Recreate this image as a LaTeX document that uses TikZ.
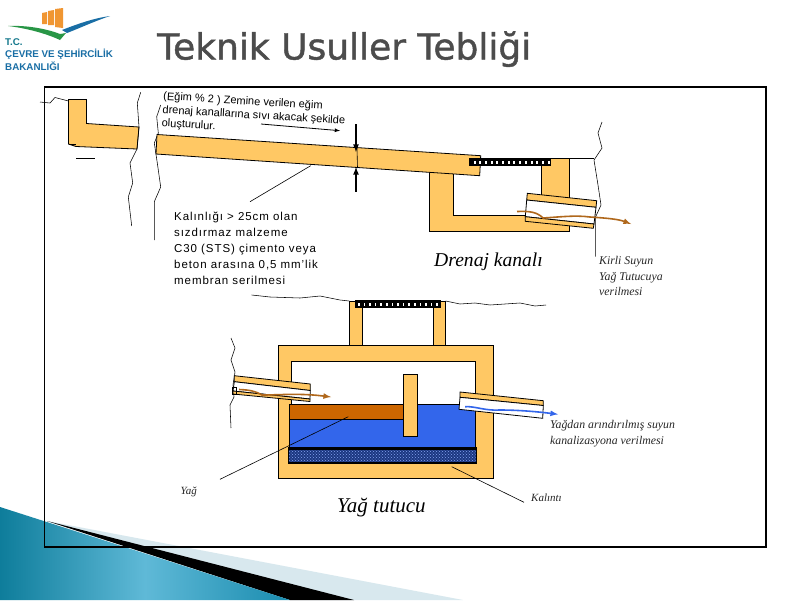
\documentclass[tikz,border=0pt]{standalone}
\usepackage{fontspec}
\setmainfont{Liberation Sans}
\newfontfamily\titlefont[FakeBold=1.2]{DejaVu Sans}
\newfontfamily\notefont{Liberation Serif}
\newfontfamily\remarkfont[LetterSpace=8]{Liberation Sans}
\usetikzlibrary{patterns}
\definecolor{wallcol}{RGB}{255,200,100}
\definecolor{oilcol}{RGB}{204,102,0}
\definecolor{watercol}{RGB}{51,102,235}
\definecolor{pipeflow}{RGB}{176,104,28}
\definecolor{logoblue}{RGB}{25,110,165}
\definecolor{logoteal}{RGB}{20,120,140}
\definecolor{tealdark}{RGB}{14,125,155}
\definecolor{tealmid}{RGB}{95,185,215}
\definecolor{tealend}{RGB}{26,140,175}
\definecolor{wedgecol}{RGB}{216,232,238}
\definecolor{logoorange}{RGB}{240,150,50}
\definecolor{logogreen}{RGB}{40,150,70}
\begin{document}
\begin{tikzpicture}[x=1pt,y=-1pt]
	\tikzstyle{wall} = [draw=black, fill=wallcol, line width=0.8pt]
	\tikzstyle{crack} = [draw=black, line width=0.55pt]
	\tikzstyle{leader} = [draw=black, line width=0.6pt]
	\tikzstyle{bore} = [draw=black, fill=white, line width=0.8pt]
	\tikzstyle{note} = [anchor=base west, font=\notefont\itshape\fontsize{11.8}{14}\selectfont, text=black!85, inner sep=0pt]
	\tikzstyle{caption} = [anchor=base west, font=\notefont\itshape\fontsize{19.6}{24}\selectfont, inner sep=0pt]
	\tikzstyle{remark} = [anchor=base west, font=\remarkfont\fontsize{11.5}{13}\selectfont, inner sep=0pt]
	\tikzstyle{slope} = [anchor=north west, align=left, font=\fontsize{11}{13.4}\selectfont, inner sep=0pt, rotate=-3.4]
	\tikzstyle{logotext} = [inner sep=0pt, anchor=west, font=\bfseries\fontsize{9.8}{11}\selectfont]
	\useasboundingbox (0,0) rectangle (800,600);
	\fill[white] (0,0) rectangle (800,600);
	\fill[wedgecol] (47,521) -- (463,600) -- (290,600) -- cycle;
	\fill[black] (47,521) -- (354,600) -- (290,600) -- cycle;
	\shade[left color=tealdark, right color=tealend, middle color=tealmid] (0,507) -- (290,600) -- (0,600) -- cycle;
	\draw[black, line width=1.8pt] (44.5,87) rectangle (766,547);
	\node[inner sep=0pt, anchor=base west, font=\titlefont\fontsize{36}{42}\selectfont, text=black!70] (title) at (157,59.5) {Teknik Usuller Tebliği};
	% logo
	\fill[logoorange] (42,13) -- (47,12) -- (47,24) -- (42,24) -- cycle;
	\fill[logoorange] (48,11) -- (54,10) -- (54,25) -- (48,25) -- cycle;
	\fill[logoorange] (55,9) -- (63,8) -- (63,28) -- (55,27) -- cycle;
	\fill[logogreen] (8,26) .. controls (30,25) and (50,30) .. (60,34) -- (66,33) -- (60,40) .. controls (45,33) and (25,28) .. (8,26) -- cycle;
	\fill[logoblue] (62,30) .. controls (80,23) and (95,18) .. (110,16) .. controls (95,21) and (80,28) .. (67,33) -- cycle;
	\node[logotext, text=logoteal] (logoa) at (5,42) {T.C.};
	\node[logotext, text=logoblue] (logob) at (5,54) {ÇEVRE VE ŞEHİRCİLİK};
	\node[logotext, text=logoblue] (logoc) at (5,66) {BAKANLIĞI};
	% drain channel
	\draw[wall] (68.5,99.5) -- (86.5,99.5) -- (86.5,123.5) -- (139,127) -- (137,149) -- (76,146.5) -- (68.5,144) -- cycle;
	\draw[leader] (68.5,144.5) -- (76,144.5);
	\draw[leader] (76,158.3) -- (95,158.3);
	\draw[crack] (40,102) -- (50,103) -- (55,97.5) -- (68.5,101);
	\draw[crack] (140.7,92.3) -- (137.3,103) -- (139,127) -- (137,149) -- (130,163) -- (132.7,183) -- (128.3,197) -- (131.7,226);
	\draw[crack] (160.7,105) -- (156.7,116.7) -- (158.3,133) -- (154.3,143) -- (157.3,163) -- (160.7,187) -- (154.3,201.7) -- (154.3,240);
	\draw[wall] (429.3,170) -- (429.3,231.7) -- (569.3,231.7) -- (569.3,158.7) -- (541.3,158.7) -- (541.3,215.3) -- (453.3,215.3) -- (453.3,170) -- cycle;
	\draw[wall] (157,134.5) -- (480.7,155.7) -- (479.7,175.7) -- (156,154) -- cycle;
	\fill[black] (469.3,158.3) rectangle (550.7,165.5);
	\foreach \i in {0,...,13} {
		\fill[white] (473.5+5.7*\i,161) rectangle +(2,3.2);
	}
	\draw[crack] (569.3,158.7) -- (594,158.7);
	\draw[crack] (602,122) -- (598,133) -- (602,148) -- (594,160) -- (598,185) -- (601,205) -- (595.7,216.7) -- (595.7,256.7);
	\draw[wall] (527.3,193.3) -- (596.7,200.7) -- (596,207.3) -- (526.7,200) -- cycle;
	\draw[bore] (526.7,200) -- (596,207.3) -- (594,224) -- (525.3,216.7) -- cycle;
	\draw[wall] (525.3,216.7) -- (594,224) -- (593.3,228.3) -- (525.3,221.3) -- cycle;
	\draw[pipeflow, line width=1.6pt, -latex] (517,211.5) .. controls (530,211) and (537,212) .. (543,218) .. controls (560,217) and (575,215) .. (590,217) .. controls (605,218) and (618,219) .. (631,224);
	\draw[leader, line width=0.8pt, -latex] (261,124) -- (340,130.7);
	\draw[black, line width=1.6pt, -latex] (356,124.3) -- (356,152);
	\draw[black, line width=1.6pt, -latex] (356,191.7) -- (356,167);
	\draw[leader] (357,148) -- (357.5,168);
	\coordinate (slabfoot) at (310.7,165.7);
	\node[remark] (thick-a) at (174,220) {Kalınlığı > 25cm olan};
	\node[remark] (thick-b) at (174,236) {sızdırmaz malzeme};
	\node[remark] (thick-c) at (174,252.3) {C30 (STS) çimento veya};
	\node[remark] (thick-d) at (174,268.3) {beton arasına 0,5 mm’lik};
	\node[remark] (thick-e) at (174,284) {membran serilmesi};
	\coordinate (thick-top) at (250,201.7);
	\draw[leader] (thick-top) -- (slabfoot);
	\node[slope] (slope-note) at (163.5,91.5) {(Eğim \% 2 ) Zemine verilen eğim\\drenaj kanallarına sıvı akacak şekilde\\oluşturulur.};
	\node[caption] (drain) at (434,266) {Drenaj kanalı};
	\node[note] (dirty-a) at (599,264) {Kirli Suyun};
	\node[note] (dirty-b) at (599,280) {Yağ Tutucuya};
	\node[note] (dirty-c) at (599,295.7) {verilmesi};
	% oil trap
	\draw[crack] (251.7,295) -- (270,297) -- (285,297.5) -- (300,298) -- (320,296) -- (340,300) -- (349.3,301);
	\draw[crack] (445.7,301) -- (460,304) -- (475,303) -- (490,305) -- (505,304) -- (520,303) -- (535,306) -- (546,305);
	\draw[wall] (349.3,301) rectangle (362.7,345.3);
	\draw[wall] (433.3,301) rectangle (445.7,345.3);
	\fill[black] (355,300.3) rectangle (441,307.7);
	\foreach \i in {0,...,14} {
		\fill[white] (358+5.6*\i,303) rectangle +(1.6,3);
	}
	\draw[wall] (278.3,345.3) rectangle (493.7,478.3);
	\draw[black, fill=white, line width=0.8pt] (291.7,361.3) -- (475.7,361.3) -- (475.7,404.3) -- (291.7,404.3) -- cycle;
	\draw[black, fill=watercol, line width=0.8pt] (289.3,404.3) rectangle (475.7,447.3);
	\draw[black, fill=oilcol, line width=0.8pt] (289.3,404.3) rectangle (403.3,419.3);
	\fill[black] (288.3,447.3) rectangle (476.7,464.3);
	\fill[watercol!55!black] (289.3,450) rectangle (475.7,461.5);
	\fill[pattern=crosshatch dots, pattern color=watercol!60!white] (289.3,450) rectangle (475.7,461.5);
	\draw[wall] (403.3,374.3) rectangle (417.3,436.3);
	\draw[crack] (231,338) -- (235,348) -- (231,360) -- (235,372) -- (233,385) -- (234,397) -- (230,405) -- (231,428);
	\draw[wall] (234.3,375.7) -- (310.3,384) -- (310.3,390.5) -- (234.3,381.7) -- cycle;
	\draw[bore] (234.3,381.7) -- (310.3,390.5) -- (310,399) -- (233,391) -- cycle;
	\draw[wall] (233,391) -- (310,399) -- (310,401.5) -- (233,394) -- cycle;
	\draw[black, line width=0.8pt] (232.5,387) rectangle (236,394);
	\draw[pipeflow, line width=1.6pt, -latex] (239,389.5) .. controls (250,390) and (255,391) .. (262,395) .. controls (280,395) and (300,393) .. (331,397);
	\draw[wall] (460,392) -- (543.3,400.7) -- (543.3,405.5) -- (460,397.3) -- cycle;
	\draw[bore] (460,397.3) -- (543.3,405.5) -- (542.7,418.3) -- (459,409.3) -- cycle;
	\draw[watercol, line width=1.6pt, -latex] (465,406.7) .. controls (475,406) and (485,411) .. (500,410) .. controls (520,410) and (540,412) .. (558,414.3);
	\coordinate (oil-mid) at (348.3,416.7);
	\coordinate (sludge-low) at (451.7,466.7);
	\node[note, font=\notefont\itshape\fontsize{11}{13}\selectfont] (oil) at (180.5,494) {Yağ};
	\node[note, font=\notefont\itshape\fontsize{11}{13}\selectfont] (sludge) at (531,501.7) {Kalıntı};
	\coordinate (oil-end) at (220,479.3);
	\coordinate (sludge-end) at (524,502.3);
	\draw[leader] (oil-end) -- (oil-mid);
	\draw[leader] (sludge-low) -- (sludge-end);
	\node[note] (clean-a) at (550,428) {Yağdan arındırılmış suyun};
	\node[note] (clean-b) at (550,444.3) {kanalizasyona verilmesi};
	\node[caption, font=\notefont\itshape\fontsize{21}{25}\selectfont] (trap) at (337,512.3) {Yağ tutucu};
\end{tikzpicture}
\end{document}
